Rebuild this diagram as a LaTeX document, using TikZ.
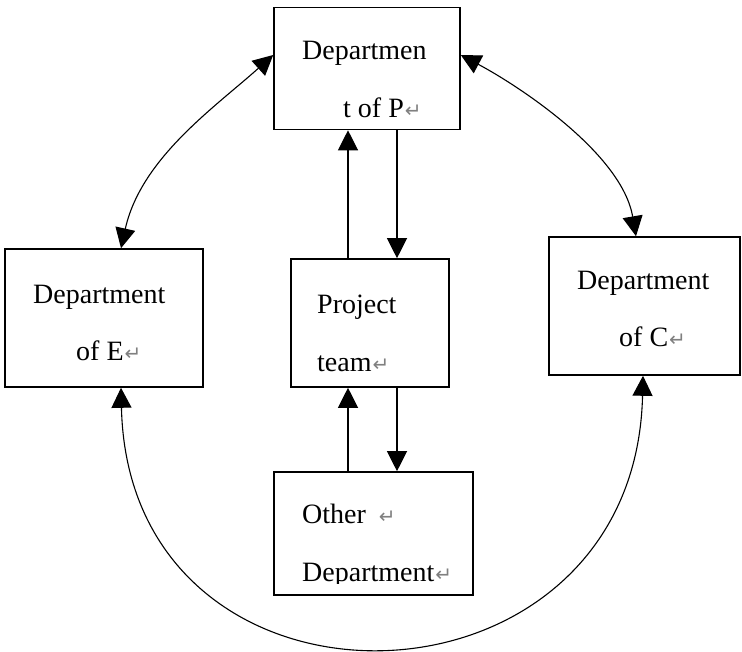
\documentclass[tikz,border=0pt]{standalone}
\usepackage{fontspec}
\setmainfont{Liberation Serif}
\newfontfamily\retfont{DejaVu Sans}
\usetikzlibrary{arrows.meta}

% paragraph mark shown after each text line
\newcommand{\pmark}{\hspace{1pt}{\retfont\fontsize{20pt}{20pt}\selectfont\color{gray}↵}}

\tikzset{
  dept/.style={draw=black, line width=1.6pt, rectangle, inner sep=0pt, fill=white},
  label/.style={anchor=base west, inner sep=0pt, font=\fontsize{28pt}{28pt}\selectfont},
  link/.style={line width=1.2pt, -{Triangle[length=20pt,width=20pt]}},
  twoway/.style={line width=1.1pt, {Triangle[length=20pt,width=20pt]}-{Triangle[length=20pt,width=20pt]}}
}

\begin{document}
\begin{tikzpicture}[x=1pt,y=-1pt]
\useasboundingbox (0,0) rectangle (742,652);

% departments
\node[dept, minimum width=186pt, minimum height=122pt] (P) at (367,68.5) {};
\node[dept, minimum width=198pt, minimum height=138pt] (E) at (104,318) {};
\node[dept, minimum width=158pt, minimum height=128pt] (T) at (370,323) {};
\node[dept, minimum width=199pt, minimum height=123pt] (O) at (373.5,533.5) {};
\node[dept, minimum width=191pt, minimum height=138pt] (C) at (644.5,306) {};

% texts
\node[label] (p1) at (302,60) {Departmen};
\node[label] (p2) at (343,118) {t of P\pmark};
\node[label] (e1) at (33,304) {Department};
\node[label] (e2) at (76,361) {of E\pmark};
\node[label] (t1) at (317,314) {Project};
\node[label] (t2) at (317,371) {team\pmark};
\node[label] (o1) at (302,523) {Other\hspace{12pt}\pmark};
\begin{scope}
  \clip (280,550) rectangle (470,583);
  \node[label] (o2) at (302,581) {Department\pmark};
\end{scope}
\node[label] (c1) at (577,290) {Department};
\node[label] (c2) at (619,347) {of C\pmark};

% columns of the straight links
\coordinate (xa) at (348,0);
\coordinate (xb) at (397,0);

\draw[link] (T.north -| xa) -- (P.south -| xa);
\draw[link] (P.south -| xb) -- (T.north -| xb);
\draw[link] (O.north -| xa) -- (T.south -| xa);
\draw[link] (T.south -| xb) -- (O.north -| xb);

% curved two-way links round the outside
\coordinate (ye) at (0,55);
\coordinate (xe) at (121,0);
\coordinate (xc) at (643,0);
\coordinate (xct) at (636,0);

\draw[twoway] (E.north -| xe) .. controls +(20,-90) and +(-58,52) .. (P.west |- ye);
\draw[twoway] (P.east |- ye) .. controls +(60,32) and +(-14,-82) .. (C.north -| xct);
\draw[twoway] (E.south -| xe) .. controls +(8,352) and +(-8,352) .. (C.south -| xc);
\end{tikzpicture}
\end{document}
